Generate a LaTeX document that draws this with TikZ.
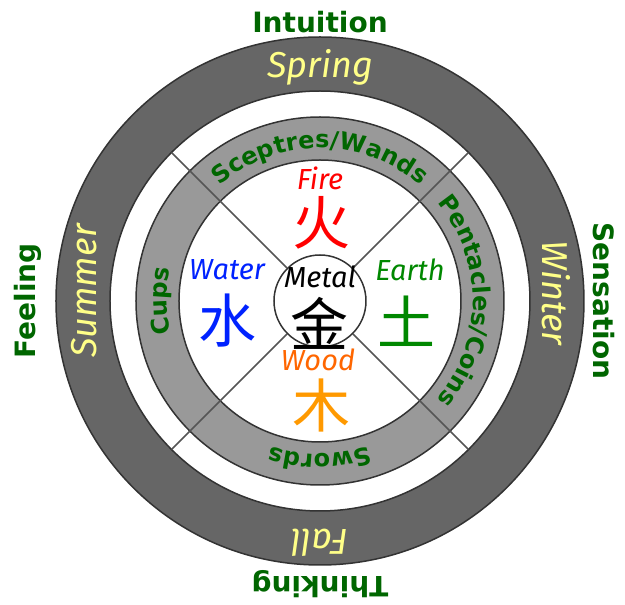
\documentclass[tikz,border=0pt]{standalone}
\usepackage{fontspec}
\setmainfont{DejaVu Sans}
\newfontfamily\handfont{Fira Sans}
\newfontfamily\cjkfont{Noto Sans CJK SC}
\usetikzlibrary{decorations.text}

\definecolor{ringedge}{HTML}{333333}
\definecolor{darkring}{HTML}{666666}
\definecolor{midring}{HTML}{999999}
\definecolor{spokegray}{HTML}{555555}
\definecolor{labelgreen}{HTML}{006600}
\definecolor{seasonyellow}{HTML}{FFFF88}
\definecolor{firered}{HTML}{FF0000}
\definecolor{waterblue}{HTML}{0022FF}
\definecolor{earthgreen}{HTML}{008800}
\definecolor{woodorange}{HTML}{FF6600}
\definecolor{woodchar}{HTML}{FF9900}

\newcommand\suitfont{\bfseries\fontsize{24}{24}\selectfont}

\tikzset{
  ring/.style={draw=ringedge,line width=1.5pt,even odd rule},
  spoke/.style={draw=spokegray,line width=1.5pt},
  function/.style={font=\bfseries\fontsize{28}{28}\selectfont,text=labelgreen,inner sep=0pt},
  season/.style={font=\handfont\itshape\fontsize{36}{36}\selectfont,text=seasonyellow,inner sep=0pt},
  element/.style={font=\handfont\itshape\fontsize{29}{29}\selectfont,inner sep=0pt},
  glyph/.style={font=\cjkfont\fontsize{58}{58}\selectfont,inner sep=0pt},
  suit/.style={decorate,decoration={text along path,text align=center,text color=labelgreen,text={|\suitfont|#1}}}
}

\begin{document}
\begin{tikzpicture}[x=1pt,y=1pt]
        \useasboundingbox (-320,-304) rectangle (305,301);
        % rings
        \path[ring,fill=darkring] (0,0) circle[radius=264] (0,0) circle[radius=210];
        \path[ring,fill=midring] (0,0) circle[radius=184] (0,0) circle[radius=141];
        \node[circle,draw=ringedge,line width=1.5pt,fill=white,minimum size=92pt,inner sep=0pt] (metal) at (0,0) {};
        \foreach \a in {45,135,225,315}
          \draw[spoke] (metal.\a) -- (\a:210);
        % suits
        \path[suit={Sceptres/Wands}] (150:153) arc[start angle=150,end angle=30,radius=153];
        \path[suit={Pentacles/Coins}] (60:153) arc[start angle=60,end angle=-60,radius=153];
        \path[suit={Swords}] (-30:153) arc[start angle=-30,end angle=-150,radius=153];
        \path[suit={Cups}] (240:153) arc[start angle=240,end angle=120,radius=153];
        % seasons
        \node[season] (spring) at (0,234) {Spring};
        \node[season,rotate=-90] (winter) at (236,8) {Winter};
        \node[season,rotate=180] (fall) at (0,-242) {Fall};
        \node[season,rotate=90] (summer) at (-236,10) {Summer};
        % functions
        \node[function] (intuition) at (0,279) {Intuition};
        \node[function,rotate=-90] (sensation) at (284,0) {Sensation};
        \node[function,rotate=180] (thinking) at (0,-283) {Thinking};
        \node[function,rotate=90] (feeling) at (-292,0) {Feeling};
        % elements
        \node[element,text=firered] (fire) at (0,123) {Fire};
        \node[glyph,text=firered] (firechar) at (2,78) {火};
        \node[element,text=waterblue] (water) at (-93,31) {Water};
        \node[glyph,text=waterblue] (waterchar) at (-92,-20) {水};
        \node[element,text=earthgreen] (earth) at (90,31) {Earth};
        \node[glyph,text=earthgreen] (earthchar) at (87,-20) {土};
        \node[element,text=woodorange] (wood) at (-2,-59) {Wood};
        \node[glyph,text=woodchar] (woodchar) at (2,-104) {木};
        \node[element,text=black] (metalname) at (0,24) {Metal};
        \node[glyph,text=black] (metalchar) at (0,-22) {金};
      \end{tikzpicture}
\end{document}
